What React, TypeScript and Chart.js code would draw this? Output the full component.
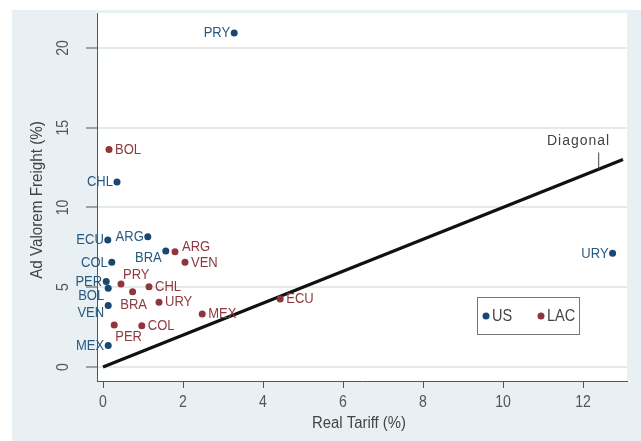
import React, { useEffect, useRef } from 'react';
import { Chart, registerables } from 'chart.js';

Chart.register(...registerables);

// ---- data ----
const xTicks = [0, 2, 4, 6, 8, 10, 12];
const yTicks = [0, 5, 10, 15, 20];

const usCountries = ['PRY', 'CHL', 'ECU', 'ARG', 'BRA', 'COL', 'PER', 'BOL', 'VEN', 'MEX', 'URY'];
const usTariff = [3.28, 0.35, 0.12, 1.12, 1.57, 0.22, 0.08, 0.13, 0.13, 0.13, 12.74];
const usFreight = [20.94, 11.6, 7.96, 8.17, 7.27, 6.56, 5.35, 4.93, 3.85, 1.34, 7.13];
const usLabelPos = [9, 9, 9, 9, 8, 9, 9, 8, 8, 9, 9];

const lacCountries = ['BOL', 'ARG', 'VEN', 'PRY', 'CHL', 'BRA', 'URY', 'MEX', 'ECU', 'PER', 'COL'];
const lacTariff = [0.15, 1.8, 2.05, 0.45, 1.15, 0.74, 1.4, 2.48, 4.43, 0.28, 0.97];
const lacFreight = [13.64, 7.23, 6.56, 5.2, 5.03, 4.72, 4.06, 3.32, 4.26, 2.63, 2.59];
const lacLabelPos = [3, 2, 3, 1, 3, 6, 3, 3, 3, 5, 3];

const diagonalX = [0, 13];
const diagonalLabel = 'Diagonal';
const diagonalLabelAt = 12.38;

const seriesNames = ['US', 'LAC'];
const xTitle = 'Real Tariff (%)';
const yTitle = 'Ad Valorem Freight (%)';

// ---- styles ----
const FONT = "'Liberation Sans', Arial, sans-serif";
const US_COLOR = '#1a476f';
const LAC_COLOR = '#90353b';
const US_TEXT = '#2a5a82';
const LAC_TEXT = '#8e3a40';
const AXIS_COLOR = '#555555';
const TEXT_COLOR = '#444444';
const OUTER_BG = '#e9f0f3';
const GRID_COLOR = '#e2eaee';

const posOffsets: Record<number, [CanvasTextAlign, number, number]> = {
  1: ['left', 2, -9],
  2: ['left', 7, -5],
  3: ['left', 6, 0],
  5: ['left', 1, 12],
  6: ['center', 1, 13],
  8: ['right', -4, 7],
  9: ['right', -4, 0],
};

function drawText(
  ctx: CanvasRenderingContext2D,
  text: string,
  x: number,
  y: number,
  size: number,
  color: string,
  align: CanvasTextAlign,
  sx: number,
  rot = 0,
  spacing = 0
) {
  ctx.save();
  ctx.translate(x, y);
  if (rot) ctx.rotate(rot);
  ctx.scale(sx, 1);
  ctx.font = `${size}px ${FONT}`;
  (ctx as any).letterSpacing = `${spacing}px`;
  ctx.fillStyle = color;
  ctx.textAlign = align;
  ctx.textBaseline = 'middle';
  ctx.fillText(text, 0, 0);
  ctx.restore();
}

export default function App() {
  const ref = useRef<HTMLCanvasElement>(null);

  useEffect(() => {
    document.body.style.margin = '0';
    if (!ref.current) return;

    const bgPlugin = {
      id: 'bgPlugin',
      beforeDraw(chart: any) {
        const { ctx, width, height, chartArea } = chart;
        ctx.save();
        ctx.fillStyle = '#ffffff';
        ctx.fillRect(0, 0, width, height);
        ctx.fillStyle = OUTER_BG;
        ctx.fillRect(12, 10, width - 12, height - 10);
        ctx.fillStyle = '#ffffff';
        ctx.fillRect(chartArea.left, chartArea.top, chartArea.right - chartArea.left, chartArea.bottom - chartArea.top);
        ctx.restore();
      },
    };

    const annotPlugin = {
      id: 'annotPlugin',
      afterDraw(chart: any) {
        const { ctx, chartArea } = chart;
        const xs = chart.scales.x;
        const ys = chart.scales.y;
        ctx.save();

        // tick labels
        yTicks.forEach((v) => {
          drawText(ctx, String(v), 64, ys.getPixelForValue(v), 16, AXIS_COLOR, 'center', 0.88, -Math.PI / 2);
        });
        xTicks.forEach((v) => {
          drawText(ctx, String(v), xs.getPixelForValue(v), 403, 16, AXIS_COLOR, 'center', 0.88);
        });

        // axis titles
        drawText(ctx, xTitle, (chartArea.left + chartArea.right) / 2 - 3, 424, 16, TEXT_COLOR, 'center', 0.93);
        drawText(ctx, yTitle, 38, 200, 16, TEXT_COLOR, 'center', 0.95, -Math.PI / 2);

        // point labels
        const drawLabels = (dsIndex: number, names: string[], pos: number[], color: string) => {
          const meta = chart.getDatasetMeta(dsIndex);
          meta.data.forEach((el: any, i: number) => {
            const [align, dx, dy] = posOffsets[pos[i]] || posOffsets[3];
            drawText(ctx, names[i], el.x + dx, el.y + dy, 15.5, color, align, 0.84);
          });
        };
        drawLabels(0, usCountries, usLabelPos, US_TEXT);
        drawLabels(1, lacCountries, lacLabelPos, LAC_TEXT);

        // diagonal label with pointer
        const px = xs.getPixelForValue(diagonalLabelAt);
        const py = ys.getPixelForValue(diagonalLabelAt);
        ctx.strokeStyle = '#444';
        ctx.lineWidth = 1;
        ctx.beginPath();
        ctx.moveTo(px + 0.5, py);
        ctx.lineTo(px + 0.5, py - 17);
        ctx.stroke();
        drawText(ctx, diagonalLabel, px + 12, py - 28, 14, TEXT_COLOR, 'right', 1, 0, 1);

        // legend
        ctx.fillStyle = '#ffffff';
        ctx.fillRect(477, 297, 102, 37);
        ctx.strokeStyle = '#777';
        ctx.lineWidth = 1;
        ctx.strokeRect(477.5, 297.5, 102, 37);
        const items = [
          { name: seriesNames[0], color: US_COLOR, x: 486 },
          { name: seriesNames[1], color: LAC_COLOR, x: 541 },
        ];
        items.forEach((it) => {
          ctx.fillStyle = it.color;
          ctx.beginPath();
          ctx.arc(it.x, 316, 3.5, 0, Math.PI * 2);
          ctx.fill();
          drawText(ctx, it.name, it.x + 6, 316, 16.5, TEXT_COLOR, 'left', 0.88);
        });

        ctx.restore();
      },
    };

    const chart = new Chart(ref.current, {
      type: 'scatter',
      data: {
        datasets: [
          {
            label: seriesNames[0],
            data: usTariff.map((x, i) => ({ x, y: usFreight[i] })),
            backgroundColor: US_COLOR,
            borderWidth: 0,
            pointRadius: 3.5,
            order: 1,
          },
          {
            label: seriesNames[1],
            data: lacTariff.map((x, i) => ({ x, y: lacFreight[i] })),
            backgroundColor: LAC_COLOR,
            borderWidth: 0,
            pointRadius: 3.5,
            order: 1,
          },
          {
            label: diagonalLabel,
            type: 'line',
            data: diagonalX.map((x) => ({ x, y: x })),
            borderColor: '#111111',
            borderWidth: 3.2,
            pointRadius: 0,
            showLine: true,
            fill: false,
            order: 3,
          } as any,
        ],
      },
      options: {
        animation: false,
        responsive: false,
        events: [],
        layout: { padding: { left: 0, top: 13, right: 14, bottom: 0 } },
        plugins: { legend: { display: false }, tooltip: { enabled: false } },
        scales: {
          x: {
            type: 'linear',
            min: -0.15,
            max: 13.1,
            afterBuildTicks: (s: any) => {
              s.ticks = xTicks.map((v) => ({ value: v }));
            },
            afterFit: (s: any) => {
              s.height = 60;
            },
            grid: { drawOnChartArea: false, drawTicks: true, tickLength: 7, tickColor: AXIS_COLOR, tickWidth: 1 },
            border: { color: AXIS_COLOR, width: 1 },
            ticks: { color: 'rgba(0,0,0,0)', font: { family: FONT, size: 16 }, padding: 2, maxRotation: 0 },
            title: { display: false },
          },
          y: {
            type: 'linear',
            min: -0.88,
            max: 22.19,
            afterBuildTicks: (s: any) => {
              s.ticks = yTicks.map((v) => ({ value: v }));
            },
            afterFit: (s: any) => {
              s.width = 97;
            },
            grid: { color: GRID_COLOR, lineWidth: 2, drawTicks: true, tickLength: 11, tickColor: AXIS_COLOR, tickWidth: 1 },
            border: { color: AXIS_COLOR, width: 1 },
            ticks: { color: 'rgba(0,0,0,0)', font: { family: FONT, size: 16 } },
            title: { display: false },
          },
        },
      },
      plugins: [bgPlugin, annotPlugin],
    });

    return () => chart.destroy();
  }, []);

  return <canvas ref={ref} width={641} height={441} style={{ display: 'block' }} />;
}
